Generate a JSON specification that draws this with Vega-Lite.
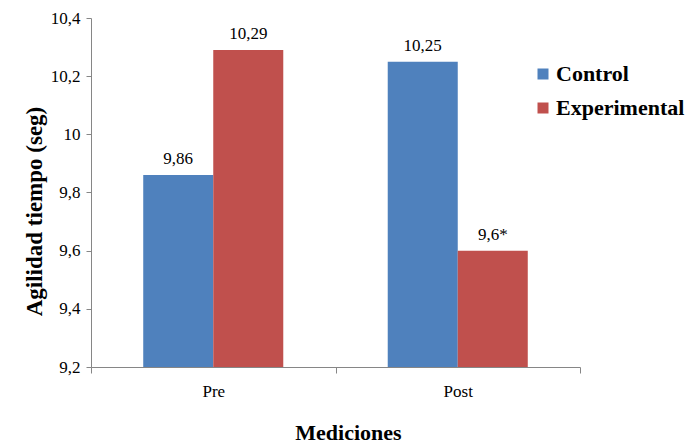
{
  "$schema": "https://vega.github.io/schema/vega-lite/v6.json",
  "autosize": "none",
  "width": 489,
  "height": 349,
  "padding": {"left": 91, "top": 18, "right": 111, "bottom": 80},
  "background": "white",
  "config": {
    "view": {"stroke": null},
    "font": "Liberation Serif",
    "text": {"font": "Liberation Serif"},
    "legend": {"labelFont": "Liberation Serif", "titleFont": "Liberation Serif"},
    "axis": {"grid": false, "domainColor": "#868686", "tickColor": "#868686", "labelFont": "Liberation Serif", "titleFont": "Liberation Serif", "labelColor": "black", "titleColor": "black", "labelFontSize": 17, "titleFontSize": 22, "titleFontWeight": "bold"}
  },
  "data": {
    "values": [
      {"Mediciones": "Pre", "Grupo": "Control", "valor": 9.86, "label": "9,86"},
      {"Mediciones": "Pre", "Grupo": "Experimental", "valor": 10.29, "label": "10,29"},
      {"Mediciones": "Post", "Grupo": "Control", "valor": 10.25, "label": "10,25"},
      {"Mediciones": "Post", "Grupo": "Experimental", "valor": 9.6, "label": "9,6*"}
    ]
  },
  "encoding": {
    "x": {
      "field": "Mediciones", "type": "nominal", "sort": ["Pre", "Post"],
      "scale": {"paddingInner": 0, "paddingOuter": 0},
      "axis": {"labelAngle": 0, "tickBand": "extent", "tickSize": 6, "labelPadding": 10, "title": "Mediciones", "titlePadding": 23, "titleX": 257}
    },
    "xOffset": {"field": "Grupo", "type": "nominal", "sort": ["Control", "Experimental"], "scale": {"paddingInner": 0, "paddingOuter": 0.746}},
    "y": {
      "field": "valor", "type": "quantitative",
      "scale": {"domain": [9.2, 10.4], "zero": false, "nice": false},
      "axis": {"values": [9.2, 9.4, 9.6, 9.8, 10, 10.2, 10.4], "tickSize": 5, "labelPadding": 6, "labelExpr": "replace(format(datum.value, '.2~f'), '.', ',')", "title": "Agilidad tiempo (seg)", "titleFontSize": 23, "titlePadding": 4, "titleY": 193}
    }
  },
  "layer": [
    {
      "mark": {"type": "bar"},
      "encoding": {
        "y2": {"datum": 9.2},
        "color": {
          "field": "Grupo", "type": "nominal",
          "scale": {"domain": ["Control", "Experimental"], "range": ["#4F81BD", "#C0504D"]},
          "legend": {"title": null, "orient": "none", "legendX": 441, "legendY": 45, "symbolType": "square", "symbolSize": 121, "symbolStrokeWidth": 0, "labelFontSize": 22, "labelFontWeight": "bold", "labelColor": "black", "rowPadding": 12, "labelOffset": 2}
        }
      }
    },
    {
      "mark": {"type": "text", "baseline": "bottom", "dy": -7, "fontSize": 17, "color": "black"},
      "encoding": {"text": {"field": "label"}}
    }
  ]
}
